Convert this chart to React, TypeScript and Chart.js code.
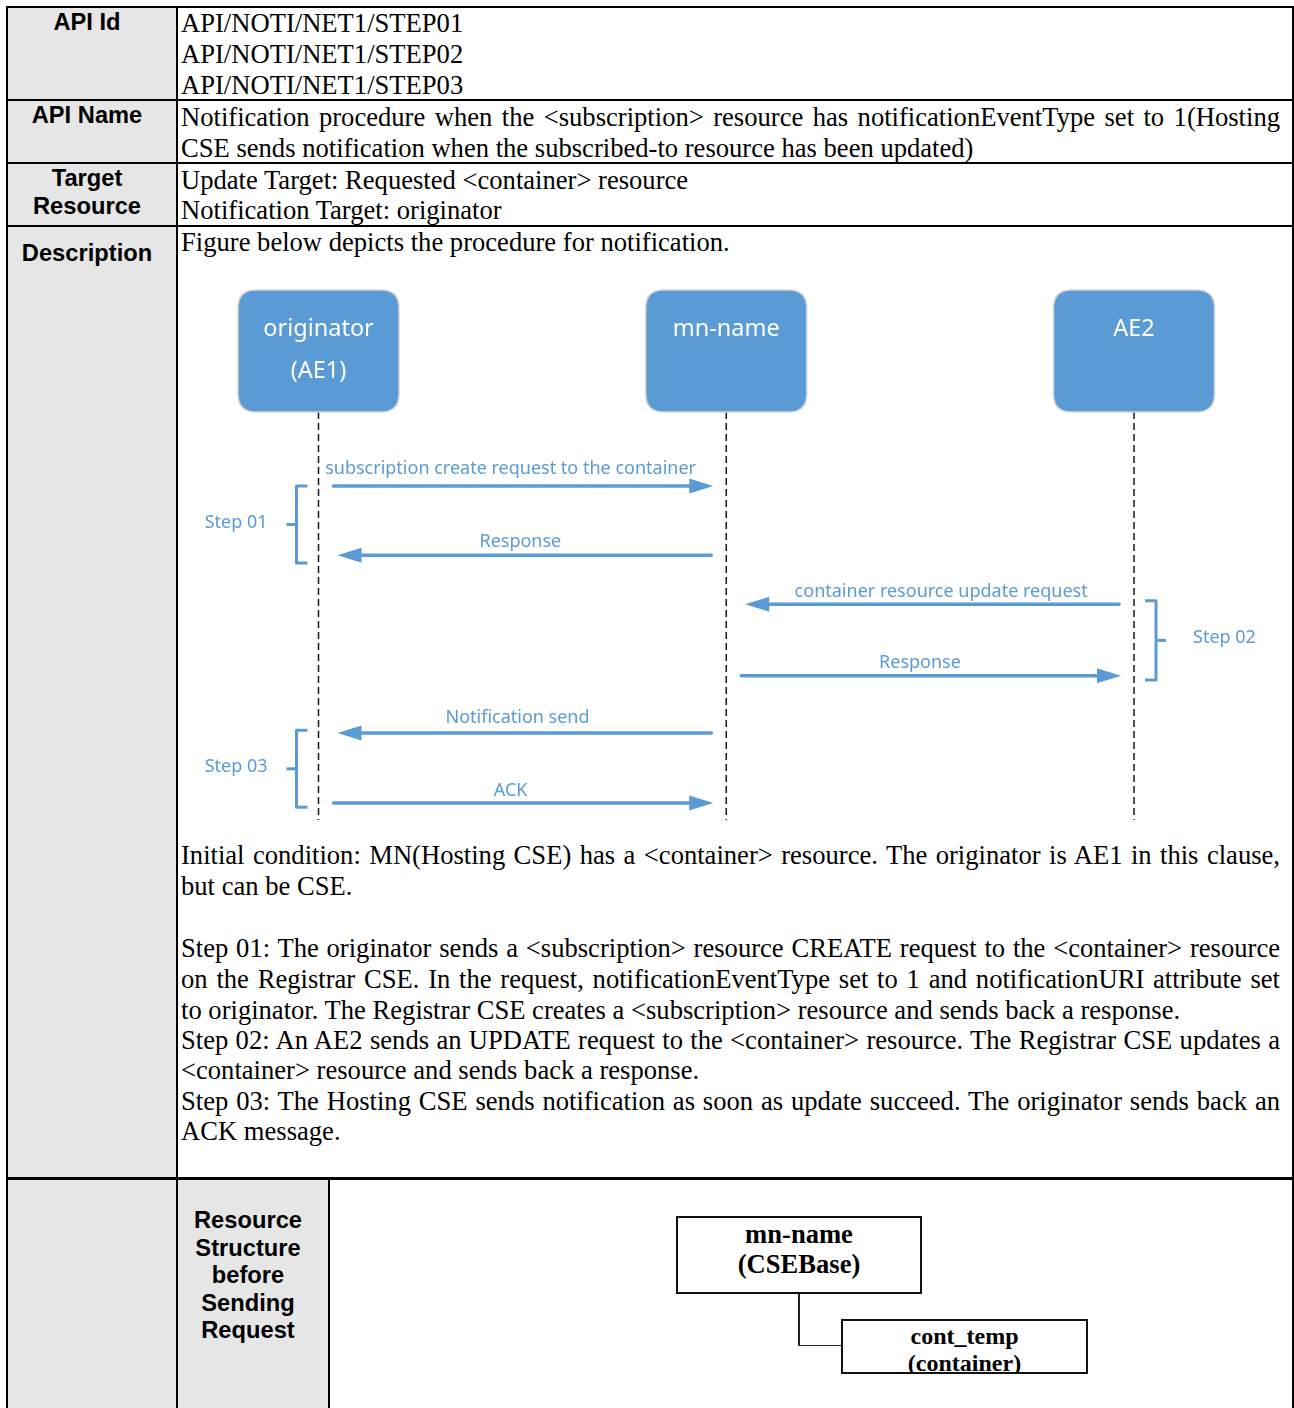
import React, { useEffect, useRef } from 'react';
import { Chart, registerables } from 'chart.js';
Chart.register(...registerables);

// ---------- sequence diagram data ----------
const PARTICIPANT_LINES: string[][] = [['originator', '(AE1)'], ['mn-name'], ['AE2']];
const LANES = [0, 1, 2];
const MSG_FROM = [0, 1, 2, 1, 1, 0];
const MSG_TO = [1, 0, 1, 2, 0, 1];
const MSG_TIME = [1.0, 1.99, 2.69, 3.71, 4.53, 5.53];
const MSG_LABELS = [
  'subscription create request to the container',
  'Response',
  'container resource update request',
  'Response',
  'Notification send',
  'ACK',
];
const MSG_LABEL_AT = [0.471, 0.495, 1.527, 1.475, 0.488, 0.471];
const STEP_LABELS = ['Step 01', 'Step 02', 'Step 03'];
const STEP_LANE = [0, 2, 0];
const STEP_SIDE = [-1, 1, -1];
const STEP_START = [1.0, 2.64, 4.49];
const STEP_END = [2.1, 3.77, 5.59];
const HEAD_TOP = -1.8;
const HEAD_BOTTOM = -0.057;
const LIFELINE_END = 5.77;

// label vertical offsets above each arrow (style, px)
const LABEL_DY = [-17, -13, -12, -13, -15, -12];

// ---------- document text ----------
const API_IDS = ['API/NOTI/NET1/STEP01', 'API/NOTI/NET1/STEP02', 'API/NOTI/NET1/STEP03'];
const API_NAME = [
  'Notification procedure when the <subscription> resource has notificationEventType set to 1(Hosting',
  'CSE sends notification when the subscribed-to resource has been updated)',
];
const TARGETS = ['Update Target: Requested <container> resource', 'Notification Target: originator'];
const DESC_INTRO = 'Figure below depicts the procedure for notification.';
const DESC_LINES: [string, boolean][] = [
  ['Initial condition: MN(Hosting CSE) has a <container> resource. The originator is AE1 in this clause,', true],
  ['but can be CSE.', false],
  ['Step 01: The originator sends a <subscription> resource CREATE request to the <container> resource', true],
  ['on the Registrar CSE. In the request, notificationEventType set to 1 and notificationURI attribute set', true],
  ['to originator. The Registrar CSE creates a <subscription> resource and sends back a response.', false],
  ['Step 02: An AE2 sends an UPDATE request to the <container> resource. The Registrar CSE updates a', true],
  ['<container> resource and sends back a response.', false],
  ['Step 03: The Hosting CSE sends notification as soon as update succeed. The originator sends back an', true],
  ['ACK message.', false],
];
const DESC_CENTERS = [856, 887, 949, 980, 1011, 1041, 1071, 1102, 1132];
const RES_LABEL = ['Resource', 'Structure', 'before', 'Sending', 'Request'];
const TREE_ROOT = ['mn-name', '(CSEBase)'];
const TREE_CHILD = ['cont_temp', '(container)'];

const BLUE = '#5b9bd5';
const SERIF = '"Liberation Serif", "Times New Roman", serif';
const SANS = '"Liberation Sans", Arial, sans-serif';
const DIAG_FONT = '"Noto Sans", "Open Sans", sans-serif';

const seqPlugin = {
  id: 'seq',
  afterDatasetsDraw(chart: any) {
    const ctx = chart.ctx;
    const xs = chart.scales.x;
    const ys = chart.scales.y;
    ctx.save();
    // participant boxes
    LANES.forEach((lane, i) => {
      const cx = xs.getPixelForValue(lane);
      const top = ys.getPixelForValue(HEAD_TOP);
      const bot = ys.getPixelForValue(HEAD_BOTTOM);
      const hw = 80.5;
      const r = 18;
      const l = cx - hw, rr = cx + hw;
      ctx.beginPath();
      ctx.moveTo(l + r, top);
      ctx.lineTo(rr - r, top);
      ctx.quadraticCurveTo(rr, top, rr, top + r);
      ctx.lineTo(rr, bot - r);
      ctx.quadraticCurveTo(rr, bot, rr - r, bot);
      ctx.lineTo(l + r, bot);
      ctx.quadraticCurveTo(l, bot, l, bot - r);
      ctx.lineTo(l, top + r);
      ctx.quadraticCurveTo(l, top, l + r, top);
      ctx.closePath();
      ctx.fillStyle = BLUE;
      ctx.fill();
      ctx.strokeStyle = '#d4d4d4';
      ctx.lineWidth = 1.5;
      ctx.stroke();
      ctx.fillStyle = '#ffffff';
      ctx.font = `23.5px ${DIAG_FONT}`;
      ctx.textAlign = 'center';
      ctx.textBaseline = 'middle';
      PARTICIPANT_LINES[i].forEach((t, k) => {
        ctx.fillText(t, cx, top + 39 + k * 42);
      });
    });
    // messages
    MSG_TIME.forEach((t, i) => {
      const y = ys.getPixelForValue(t);
      const x1 = xs.getPixelForValue(MSG_FROM[i]);
      const x2 = xs.getPixelForValue(MSG_TO[i]);
      const dir = x2 > x1 ? 1 : -1;
      const start = x1 + dir * 15;
      const tip = x2 - dir * (dir > 0 ? 13 : 19);
      const headLen = 24;
      const hh = 7.5;
      ctx.strokeStyle = BLUE;
      ctx.lineWidth = 3.5;
      ctx.lineCap = 'round';
      ctx.beginPath();
      ctx.moveTo(start, y);
      ctx.lineTo(tip - dir * headLen * 0.7, y);
      ctx.stroke();
      ctx.fillStyle = BLUE;
      ctx.beginPath();
      ctx.moveTo(tip, y);
      ctx.lineTo(tip - dir * headLen, y - hh);
      ctx.lineTo(tip - dir * headLen, y + hh);
      ctx.closePath();
      ctx.fill();
      ctx.font = `18px ${DIAG_FONT}`;
      ctx.textAlign = 'center';
      ctx.textBaseline = 'middle';
      ctx.fillText(MSG_LABELS[i], xs.getPixelForValue(MSG_LABEL_AT[i]), y + LABEL_DY[i]);
    });
    // step brackets
    STEP_LABELS.forEach((label, i) => {
      const side = STEP_SIDE[i];
      const lx = xs.getPixelForValue(STEP_LANE[i]);
      const y1 = ys.getPixelForValue(STEP_START[i]);
      const y2 = ys.getPixelForValue(STEP_END[i]);
      const vx = lx + side * 22;
      const ex = lx + side * 11;
      const tx = vx + side * 10;
      const ym = (y1 + y2) / 2;
      ctx.strokeStyle = BLUE;
      ctx.lineWidth = 3;
      ctx.lineCap = 'butt';
      ctx.lineJoin = 'round';
      ctx.beginPath();
      ctx.moveTo(ex, y1);
      ctx.lineTo(vx, y1);
      ctx.lineTo(vx, y2);
      ctx.lineTo(ex, y2);
      ctx.stroke();
      ctx.beginPath();
      ctx.moveTo(vx, ym);
      ctx.lineTo(tx, ym);
      ctx.stroke();
      ctx.fillStyle = BLUE;
      ctx.font = `18px ${DIAG_FONT}`;
      ctx.textBaseline = 'middle';
      ctx.textAlign = side < 0 ? 'right' : 'left';
      ctx.fillText(label, side < 0 ? tx - 19 : tx + 27, ym - 2);
    });
    ctx.restore();
  },
};

function SeqDiagram() {
  const ref = useRef<HTMLCanvasElement | null>(null);
  useEffect(() => {
    if (!ref.current) return;
    const chart = new Chart(ref.current, {
      type: 'line',
      data: {
        datasets: LANES.map((lane) => ({
          data: [
            { x: lane, y: HEAD_BOTTOM },
            { x: lane, y: LIFELINE_END },
          ],
          borderColor: '#1a1a1a',
          borderWidth: 1.5,
          borderDash: [7, 4],
          pointRadius: 0,
          fill: false,
        })),
      },
      options: {
        animation: false,
        responsive: false,
        maintainAspectRatio: false,
        devicePixelRatio: 1,
        layout: { padding: 0 },
        plugins: { legend: { display: false }, tooltip: { enabled: false } },
        scales: {
          x: { type: 'linear', min: -0.3446, max: 2.3899, display: false },
          y: { type: 'linear', min: -2.2571, max: 5.9143, reverse: true, display: false },
        },
      } as any,
      plugins: [seqPlugin],
    });
    return () => chart.destroy();
  }, []);
  return (
    <canvas
      ref={ref}
      width={1115}
      height={572}
      style={{ position: 'absolute', left: 178, top: 258, width: 1115, height: 572 }}
    />
  );
}

const abs = (left: number, top: number, extra: React.CSSProperties = {}): React.CSSProperties => ({
  position: 'absolute',
  left,
  top,
  ...extra,
});

function SerifLine({ text, center, justify }: { text: string; center: number; justify?: boolean }) {
  return (
    <div
      style={abs(181, center - 15.7, {
        width: 1099,
        font: `26.6px ${SERIF}`,
        lineHeight: '31px',
        whiteSpace: 'nowrap',
        textAlign: justify ? 'justify' : 'left',
        textAlignLast: justify ? 'justify' : 'left',
        color: '#000',
      } as any)}
    >
      {text}
    </div>
  );
}

function Label({ text, center, x0, x1 }: { text: string; center: number; x0: number; x1: number }) {
  return (
    <div
      style={abs(x0, center - 13.7, {
        width: x1 - x0,
        textAlign: 'center',
        font: `bold 23.7px ${SANS}`,
        lineHeight: '28px',
        whiteSpace: 'nowrap',
        color: '#000',
      })}
    >
      {text}
    </div>
  );
}

function Box({ left, top, width, height, lines, centers, size }: any) {
  return (
    <div
      style={abs(left, top, {
        width,
        height,
        boxSizing: 'border-box',
        border: '2px solid #111',
        background: '#fff',
        overflow: 'hidden',
      })}
    >
      {lines.map((t: string, i: number) => (
        <div
          key={i}
          style={abs(0, centers[i] - top - 2 - size * 0.59, {
            width: width - 4,
            textAlign: 'center',
            font: `bold ${size}px ${SERIF}`,
            lineHeight: `${Math.round(size * 1.165)}px`,
            whiteSpace: 'nowrap',
          })}
        >
          {t}
        </div>
      ))}
    </div>
  );
}

export default function App() {
  const H = 1408;
  const line = (l: number, t: number, w: number, h: number) => (
    <div style={abs(l, t, { width: w, height: h, background: '#000' })} />
  );
  return (
    <div style={{ position: 'absolute', left: 0, top: 0, width: 1294, height: H, overflow: 'hidden', background: '#fff' }}>
      {/* gray label column */}
      <div style={abs(7, 7, { width: 170, height: H, background: '#e7e6e6' })} />
      <div style={abs(177, 1179, { width: 152, height: H, background: '#e7e6e6' })} />
      {/* grid lines */}
      {line(6, 6, 1288, 2)}
      {line(6, 99, 1288, 2)}
      {line(6, 162, 1288, 2)}
      {line(6, 225, 1288, 2)}
      {line(6, 1177, 1288, 3)}
      {line(6, 6, 2, H)}
      {line(176, 6, 2, H)}
      {line(1292, 6, 2, H)}
      {line(328, 1178, 2, H)}

      {/* labels */}
      <Label text="API Id" center={22} x0={6} x1={168} />
      <Label text="API Name" center={115} x0={6} x1={168} />
      <Label text="Target" center={178} x0={6} x1={168} />
      <Label text="Resource" center={206} x0={6} x1={168} />
      <Label text="Description" center={253} x0={6} x1={168} />
      {RES_LABEL.map((t, i) => (
        <Label key={t} text={t} center={1220 + i * 27.5} x0={177} x1={319} />
      ))}

      {/* content text */}
      {API_IDS.map((t, i) => (
        <SerifLine key={t} text={t} center={24 + i * 31} />
      ))}
      <SerifLine text={API_NAME[0]} center={118} justify />
      <SerifLine text={API_NAME[1]} center={149} />
      <SerifLine text={TARGETS[0]} center={181} />
      <SerifLine text={TARGETS[1]} center={211} />
      <SerifLine text={DESC_INTRO} center={243} />
      {DESC_LINES.map(([t, j], i) => (
        <SerifLine key={i} text={t} center={DESC_CENTERS[i]} justify={j} />
      ))}

      <SeqDiagram />

      {/* resource tree */}
      <div style={abs(798, 1293, { width: 1.5, height: 53, background: '#222' })} />
      <div style={abs(798, 1344.5, { width: 44, height: 1.5, background: '#222' })} />
      <Box left={676} top={1216} width={246} height={78} lines={TREE_ROOT} centers={[1235, 1265]} size={26.6} />
      <Box left={841} top={1319} width={247} height={55} lines={TREE_CHILD} centers={[1336, 1363]} size={24} />
    </div>
  );
}
